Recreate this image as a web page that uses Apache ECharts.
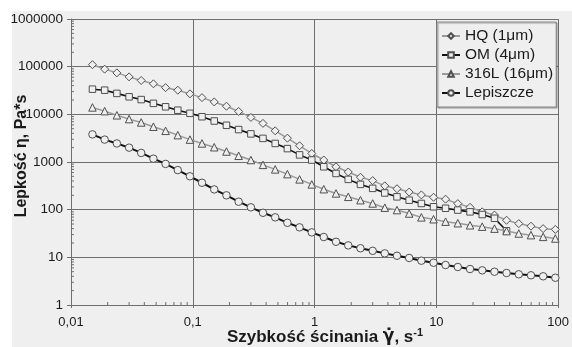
<!DOCTYPE html>
<html>
<head>
<meta charset="utf-8">
<script src="https://cdn.jsdelivr.net/npm/echarts@6/dist/echarts.min.js"></script>
<style>html,body{margin:0;padding:0;background:#fff}#c{width:572px;height:347px}</style>
</head>
<body>
<div id="c"></div>
<script>
// Shear rate (s^-1)
const shearRate = [0.015, 0.0189, 0.0238, 0.03, 0.0377, 0.0475, 0.0598, 0.0753, 0.0948,
  0.119, 0.15, 0.189, 0.238, 0.3, 0.377, 0.475, 0.598, 0.753, 0.948,
  1.19, 1.5, 1.89, 2.38, 3, 3.77, 4.75, 5.98, 7.53, 9.48,
  11.9, 15, 18.9, 23.8, 30, 37.7, 47.5, 59.8, 75.3, 94.8];
// Viscosity (Pa*s)
const hqValues = [110000, 88700, 74100, 61100, 51300, 43700, 36300, 32100, 26900,
  22400, 18200, 14800, 11500, 8610, 6460, 4510, 3160, 2190, 1510,
  1100, 794, 617, 479, 407, 316, 275, 234, 204, 182,
  166, 134, 112, 90, 77, 60, 51, 45, 40, 38.5];
const omValues = [33700, 32100, 27500, 23300, 20400, 17000, 14400, 12200, 10500,
  8910, 7240, 5890, 4790, 3890, 3130, 2450, 1910, 1410, 1100,
  794, 575, 432, 339, 280, 224, 186, 158, 135, 115,
  107, 98, 90, 79, 66, 36, null, null, null, null];
const s316Values = [13960, 11670, 9550, 7940, 6760, 5500, 4510, 3660, 2950,
  2450, 2040, 1660, 1350, 1100, 871, 700, 557, 432, 339,
  269, 219, 186, 158, 135, 110, 98, 83, 69, 63,
  56, 52, 47, 44, 40, 35.5, 31.6, 29.2, 26.9, 24.8];
const lepValues = [3800, 2950, 2450, 2000, 1550, 1175, 912, 676, 501,
  367, 266, 200, 147, 112, 86, 69, 53, 42.6, 33.4,
  26.7, 21.2, 17.8, 15.5, 13.7, 12.1, 10.8, 9.7, 8.5, 7.7,
  6.9, 6.27, 5.69, 5.33, 4.99, 4.69, 4.41, 4.2, 4.0, 3.73];
const seriesNames = ['HQ (1μm)', 'OM (4μm)', '316L (16μm)', 'Lepiszcze'];
// axis tick positions
const xDecades = [0.01, 0.1, 1, 10];
const yDecades = [1, 10, 100, 1000, 10000, 100000];
const minorMult = [2, 3, 4, 5, 6, 7, 8, 9];
const xTickLabels = {0.01: '0,01', 0.1: '0,1', 1: '1', 10: '10', 100: '100'};

const BG = '#efefef';
const GRID = '#6e6e6e';
const font = '"Liberation Sans", Arial, sans-serif';

function pairs(vals) {
  const out = [];
  vals.forEach((v, i) => { if (v !== null) out.push([shearRate[i], v]); });
  return out;
}
const xMinor = [], yMinor = [];
xDecades.forEach(d => minorMult.forEach(m => xMinor.push([d * m, 1])));
yDecades.forEach(d => minorMult.forEach(m => yMinor.push([0.01, d * m])));

const styles = [
  {sym: 'diamond', size: 8, line: '#9a9a9a', w: 1.5},
  {sym: 'rect', size: 6.5, line: '#111111', w: 1.6},
  {sym: 'triangle', size: 7.5, line: '#9a9a9a', w: 1.5},
  {sym: 'circle', size: 7.5, line: '#111111', w: 2}
];
const dataSets = [hqValues, omValues, s316Values, lepValues];

const series = dataSets.map((vals, i) => ({
  name: seriesNames[i],
  type: 'line',
  data: pairs(vals),
  symbol: styles[i].sym,
  symbolSize: styles[i].size,
  showAllSymbol: true,
  lineStyle: {color: styles[i].line, width: styles[i].w},
  itemStyle: {color: BG, borderColor: '#505050', borderWidth: 1},
  z: 3 + i
}));

series.push({
  type: 'custom', silent: true, data: xMinor, z: 2,
  renderItem: (params, api) => {
    const p = api.coord([api.value(0), api.value(1)]);
    return {type: 'line', shape: {x1: p[0], y1: p[1], x2: p[0], y2: p[1] - 3},
      style: {stroke: GRID, lineWidth: 1}};
  }
});
series.push({
  type: 'custom', silent: true, data: yMinor, z: 2,
  renderItem: (params, api) => {
    const p = api.coord([api.value(0), api.value(1)]);
    return {type: 'line', shape: {x1: p[0], y1: p[1], x2: p[0] + 3, y2: p[1]},
      style: {stroke: GRID, lineWidth: 1}};
  }
});

const chart = echarts.init(document.getElementById('c'), null, {renderer: 'canvas'});
chart.setOption({
  animation: false,
  backgroundColor: '#ffffff',
  textStyle: {fontFamily: font},
  graphic: {elements: [
    {type: 'rect', z: -100, silent: true, shape: {x: 12, y: 11, width: 560, height: 336}, style: {fill: BG}},
    {type: 'text', z: 100, x: 22, y: 156, rotation: Math.PI / 2,
      style: {text: 'Lepkość η, Pa*s', font: 'bold 16px ' + font, fill: '#1a1a1a', align: 'center', verticalAlign: 'middle'}},
    {type: 'text', z: 100, x: 325, y: 337,
      style: {text: 'Szybkość ścinania {g|γ̇}, s{sup|-1}', font: 'bold 17px ' + font, fill: '#1a1a1a', align: 'center', verticalAlign: 'middle',
        rich: {
          g: {font: 'bold 17px "DejaVu Sans", sans-serif', fill: '#1a1a1a'},
          sup: {font: 'bold 11px ' + font, fill: '#1a1a1a', verticalAlign: 'top', padding: [0, 0, 8, 0]}
        }}}
  ]},
  grid: {left: 71, right: 11, top: 19, bottom: 42, containLabel: false},
  legend: {
    data: seriesNames,
    orient: 'vertical',
    left: 437, top: 22,
    padding: [6, 3, 6, 4],
    itemGap: 3,
    itemWidth: 18, itemHeight: 7,
    itemStyle: {borderColor: '#505050'},
    backgroundColor: BG,
    borderColor: '#888', borderWidth: 1,
    shadowColor: 'rgba(0,0,0,0.35)', shadowOffsetX: 1, shadowOffsetY: 1, shadowBlur: 1,
    textStyle: {fontSize: 15.5, color: '#1a1a1a', fontFamily: font}
  },
  xAxis: {
    type: 'log', logBase: 10, min: 0.01, max: 100,
    axisLine: {lineStyle: {color: GRID, width: 1}},
    axisTick: {show: true, length: 3, lineStyle: {color: GRID}},
    splitLine: {show: true, lineStyle: {color: GRID, width: 1}},
    axisLabel: {color: '#1a1a1a', fontSize: 13, margin: 11, fontFamily: font,
      formatter: v => xTickLabels[+v.toPrecision(3)] !== undefined ? xTickLabels[+v.toPrecision(3)] : String(v)}
  },
  yAxis: {
    type: 'log', logBase: 10, min: 1, max: 1000000,
    axisLine: {show: true, lineStyle: {color: GRID, width: 1}},
    axisTick: {show: true, length: 4, lineStyle: {color: GRID}},
    splitLine: {show: true, lineStyle: {color: GRID, width: 1}},
    axisLabel: {color: '#1a1a1a', fontSize: 13.5, margin: 8, fontFamily: font, formatter: v => String(Math.round(v))}
  },
  series: series
});
</script>
</body>
</html>
